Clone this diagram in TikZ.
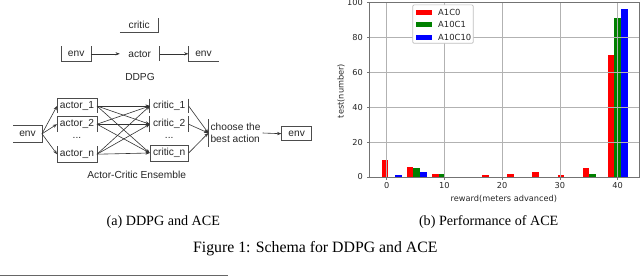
\documentclass[tikz,border=0pt]{standalone}
\usepackage{fontspec}
\setmainfont{Liberation Serif}
\newfontfamily\diafont{Liberation Sans}
\newfontfamily\plotfont{DejaVu Sans}
\usetikzlibrary{arrows.meta}
\begin{document}
\begin{tikzpicture}[x=0.75pt,y=-0.75pt,
  side/.style={black!70, line width=0.5pt},
  lbl/.style={inner sep=0pt, font=\diafont\fontsize{7.65}{8.5}\selectfont, text=black!85},
  box/.style 2 args={minimum width=#1*0.75pt, minimum height=#2*0.75pt},
  conn/.style={black!80, line width=0.45pt, -{Stealth[length=3.2pt,width=2.4pt]}},
  ptext/.style={inner sep=0pt, font=\plotfont\fontsize{6.15}{7}\selectfont, text=black!85},
  ltext/.style={inner sep=0pt, font=\plotfont\fontsize{6.3}{7}\selectfont, text=black!85, anchor=west},
  gridc/.style={black!30, line width=0.6pt},
  frame/.style={black!55, line width=0.6pt},
  subcap/.style={inner sep=0pt, font=\fontsize{10.6}{12}\selectfont},
  figcap/.style={inner sep=0pt, font=\fontsize{11.85}{14}\selectfont}
]
\useasboundingbox (0,0) rectangle (640,276);

% ---------- DDPG ----------
\node[lbl, box={38.3}{13.4}] (critic) at (139.2,25) {critic};
\draw[side] (critic.south west) -- (critic.south east) -- (critic.north east);
\node[lbl, box={29}{14.3}] (envA) at (76.2,53.8) {env};
\draw[side] (envA.north west) -- (envA.south west) -- (envA.south east) -- (envA.north east);
\node[lbl, box={39.3}{14.3}] (actor) at (139.7,53.8) {actor};
\draw[side] (actor.north east) -- (actor.south east);
\node[lbl, box={29.6}{14.3}] (envB) at (203.5,53.8) {env};
\draw[side] (envB.north west) -- (envB.south west) -- (envB.south east);
\draw[conn] (envA.east) -- (actor.west);
\draw[conn] (actor.east) -- (envB.west);
\node[lbl] (ddpg) at (140,76.7) {DDPG};

% ---------- ACE ----------
\node[lbl, box={28.4}{15.7}] (env0) at (27.5,133.8) {env};
\draw[side] (env0.north west) -- (env0.north east) -- (env0.south east) -- (env0.south west);
\node[lbl, box={39.4}{14}] (a1) at (77,106) {actor\_1};
\draw[side] (a1.south west) -- (a1.north west) -- (a1.north east) -- (a1.south east);
\node[lbl, box={39.4}{15}] (a2) at (77,124.2) {actor\_2};
\draw[side] (a2.south west) -- (a2.north west) -- (a2.north east) -- (a2.south east);
\node[lbl] (ad) at (77,137.7) {...};
\node[lbl, box={39.4}{15}] (an) at (77,154.2) {actor\_n};
\draw[side] (an.north west) -- (an.south west) -- (an.south east) -- (an.north east);
\node[lbl, box={38.3}{14}] (c1) at (169.2,106) {critic\_1};
\draw[side] (c1.north west) -- (c1.south west);
\draw[side] (c1.north east) -- (c1.south east);
\node[lbl, box={38.3}{15}] (c2) at (169.2,124.2) {critic\_2};
\draw[side] (c2.north west) -- (c2.south west);
\draw[side] (c2.north east) -- (c2.south east);
\node[lbl] (cd) at (169.2,138.3) {...};
\node[lbl, box={38.3}{16}, draw=black!70, line width=0.5pt] (cn) at (169.2,153) {critic\_n};
\node[lbl, align=left, anchor=west, inner xsep=1.5pt, inner ysep=3pt] (ch) at (208.3,133) {choose the\\best action};
\draw[side] (ch.north west) -- (ch.south west);
\node[lbl, box={30}{14}, draw=black!70, line width=0.5pt] (env9) at (296.7,133.7) {env};

\foreach \a in {a1,a2,an} \draw[conn] (env0.east) -- (\a.west);
\foreach \a in {a1,a2,an} \foreach \c in {c1,c2,cn} \draw[conn] (\a.east) -- (\c.west);
\foreach \c in {c1,c2,cn} \draw[conn] (\c.east) -- (ch.west);
\draw[conn] (ch.east) -- (env9.west);
\node[lbl] (acel) at (136.7,175) {Actor-Critic Ensemble};

% ---------- Plot ----------
\begin{scope}[shift={(386.7,177)}, x=4.331pt, y=1.309pt]
  \foreach \i/\vr/\vg/\vb in {0/10/0/1, 1/6/5/3, 2/2/2/0, 4/1/0/0, 5/2/0/0, 6/3/0/0, 7/1/0/0, 8/5/2/0, 9/70/91/96} {
    \pgfmathsetmacro\s{-0.87+4.35*\i}
    \fill[red] (\s,0) rectangle ++(1.16,\vr);
    \fill[green!50!black] (\s+1.16,0) rectangle ++(1.16,\vg);
    \fill[blue] (\s+2.32,0) rectangle ++(1.16,\vb);
  }
  \foreach \x in {0,10,20,30,40} {
    \draw[gridc] (\x,0) -- (\x,100);
    \draw[frame] (\x,0) -- (\x,-1.5);
    \node[ptext, anchor=base] at (\x,-6.3) {\x};
  }
  \foreach \y in {20,40,60,80} \draw[gridc] (-3,\y) -- (43.69,\y);
  \foreach \y in {0,20,40,60,80,100} {
    \draw[frame] (-3,\y) -- (-3.45,\y);
    \node[ptext, anchor=east] at (-4.1,\y) {\y};
  }
  \draw[frame] (-3,0) rectangle (43.69,100);
  \node[ptext, rotate=90] (ylab) at (-7.9,49.3) {test(number)};
  \node[ptext, anchor=base] (xlab) at (20.3,-13.75) {reward(meters advanced)};
  % legend
  \draw[black!25, fill=white, line width=0.5pt, rounded corners=1pt] (4.5,98.6) rectangle (15.0,76.6);
  \fill[red] (5.02,93.0) rectangle (7.79,95.9);
  \fill[green!50!black] (5.02,86.1) rectangle (7.79,89.0);
  \fill[blue] (5.02,78.4) rectangle (7.79,81.3);
  \node[ltext] (l1) at (8.88,94.4) {A1C0};
  \node[ltext] (l2) at (8.88,87.5) {A10C1};
  \node[ltext] (l3) at (8.88,79.8) {A10C10};
\end{scope}

% ---------- Captions ----------
\node[subcap, anchor=base] (capa) at (163.3,225.7) {(a) DDPG and ACE};
\node[subcap, anchor=base] (capb) at (488.7,225) {(b) Performance of ACE};
\node[figcap, anchor=base] (fig) at (315.3,252.3) {Figure 1: Schema for DDPG and ACE};
\coordinate (r0) at (0,275);
\coordinate (r1) at (228,275);
\draw[black!60, line width=0.6pt] (r0) -- (r1);
\end{tikzpicture}
\end{document}
